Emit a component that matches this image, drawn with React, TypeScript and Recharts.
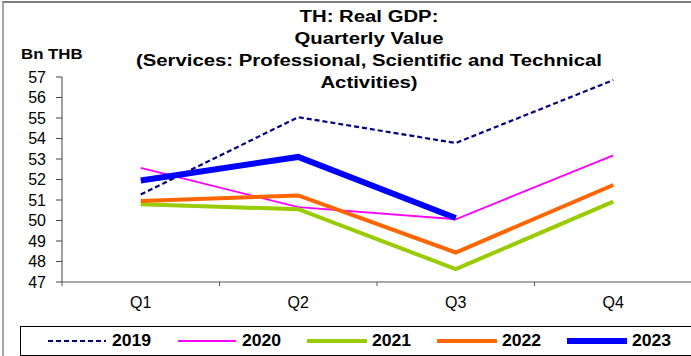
import React from "react";
import { LineChart, Line, XAxis, YAxis, Legend } from "recharts";

const quarters = ["Q1", "Q2", "Q3", "Q4"];
const v2019 = [51.27, 55.04, 53.78, 56.85];
const v2020 = [52.57, 50.65, 50.06, 53.18];
const v2021 = [50.79, 50.55, 47.63, 50.92];
const v2022 = [50.95, 51.22, 48.44, 51.73];
const v2023: (number | null)[] = [51.95, 53.1, 50.12, null];
const yTicks = [47, 48, 49, 50, 51, 52, 53, 54, 55, 56, 57];
const titleLines = [
  "TH: Real GDP:",
  "Quarterly Value",
  "(Services: Professional, Scientific and Technical",
  "Activities)",
];
const unitLabel = "Bn THB";

const series = [
  { key: "y2019", name: "2019", color: "#000080", width: 2.2, dash: "5 3" },
  { key: "y2020", name: "2020", color: "#FF00FF", width: 1.8, dash: undefined },
  { key: "y2021", name: "2021", color: "#99CC00", width: 4, dash: undefined },
  { key: "y2022", name: "2022", color: "#FF6600", width: 4, dash: undefined },
  { key: "y2023", name: "2023", color: "#0000FF", width: 6, dash: undefined },
];

const data = quarters.map((q, i) => ({
  q,
  y2019: v2019[i],
  y2020: v2020[i],
  y2021: v2021[i],
  y2022: v2022[i],
  y2023: v2023[i],
}));

const FONT = "'Liberation Sans', Arial, sans-serif";

const XTick = (props: any) => {
  const { x, y, payload, index } = props;
  const off = payload && typeof payload.offset === "number" ? payload.offset : 0;
  return (
    <g>
      <line x1={x - off} x2={x - off} y1={y} y2={y + 4} stroke="#555" />
      {index === quarters.length - 1 && (
        <line x1={x + off} x2={x + off} y1={y} y2={y + 4} stroke="#555" />
      )}
      <text x={x} y={y + 15} dy="0.71em" textAnchor="middle" fontSize={16} fill="#000" fontFamily={FONT}>
        {payload.value}
      </text>
    </g>
  );
};

const renderLegend = () => (
  <div
    style={{
      boxSizing: "border-box",
      border: "1px solid #000",
      height: 30,
      width: 680,
      display: "flex",
      alignItems: "center",
      paddingLeft: 26,
      fontFamily: FONT,
    }}
  >
    {series.map((s) => (
      <div key={s.key} style={{ width: 130, display: "flex", alignItems: "center" }}>
        <svg width={60} height={10} style={{ display: "block" }}>
          <line
            x1={1}
            x2={59}
            y1={5}
            y2={5}
            stroke={s.color}
            strokeWidth={s.width}
            strokeDasharray={s.dash}
            strokeLinecap={s.width >= 4 ? "round" : "butt"}
          />
        </svg>
        <span style={{ marginLeft: 5, fontWeight: "bold", fontSize: 16, transform: "scaleX(1.1)", transformOrigin: "left center", display: "inline-block" }}>
          {s.name}
        </span>
      </div>
    ))}
  </div>
);

export default function App() {
  return (
    <div
      style={{
        position: "absolute",
        left: 0,
        top: 0,
        width: 691,
        height: 356,
        overflow: "hidden",
        background: "#fff",
      }}
    >
      <div
        style={{
          position: "absolute",
          left: 2,
          top: 1,
          width: 720,
          height: 400,
          borderLeft: "2px solid #a6a6a6",
          borderTop: "2px solid #7f7f7f",
        }}
      />
      <LineChart
        width={700}
        height={356}
        data={data}
        margin={{ top: 77, right: 8, left: 0, bottom: 0 }}
        style={{ fontFamily: FONT }}
      >
        <YAxis
          width={62}
          domain={[47, 57]}
          ticks={yTicks}
          interval={0}
          tickSize={6}
          tickMargin={10}
          tick={{ fontSize: 16, fill: "#000", fontFamily: FONT }}
          axisLine={{ stroke: "#444" }}
          tickLine={{ stroke: "#444" }}
        />
        <XAxis
          dataKey="q"
          scale="band"
          height={44}
          interval={0}
          tickLine={false}
          tickSize={0}
          tickMargin={0}
          axisLine={{ stroke: "#555" }}
          tick={<XTick />}
        />
        {series.map((s) => (
          <Line
            key={s.key}
            dataKey={s.key}
            name={s.name}
            type="linear"
            stroke={s.color}
            strokeWidth={s.width}
            strokeDasharray={s.dash}
            dot={false}
            activeDot={false}
            isAnimationActive={false}
            connectNulls={false}
          />
        ))}
        <Legend
          content={renderLegend}
          wrapperStyle={{ left: 20, top: 326, width: 680, height: 30 }}
        />
      </LineChart>
      <div
        style={{
          position: "absolute",
          left: 0,
          top: 6,
          width: 738,
          textAlign: "center",
          fontFamily: FONT,
          fontWeight: "bold",
          fontSize: 16,
          lineHeight: "22px",
          color: "#000",
          transform: "scaleX(1.27)",
          transformOrigin: "369px 0",
        }}
      >
        {titleLines.map((t) => (
          <div key={t}>{t}</div>
        ))}
      </div>
      <div
        style={{
          position: "absolute",
          left: 21,
          top: 45,
          fontFamily: FONT,
          fontWeight: "bold",
          fontSize: 15,
          lineHeight: "18px",
          color: "#000",
          transform: "scaleX(1.12)",
          transformOrigin: "0 0",
        }}
      >
        {unitLabel}
      </div>
    </div>
  );
}
